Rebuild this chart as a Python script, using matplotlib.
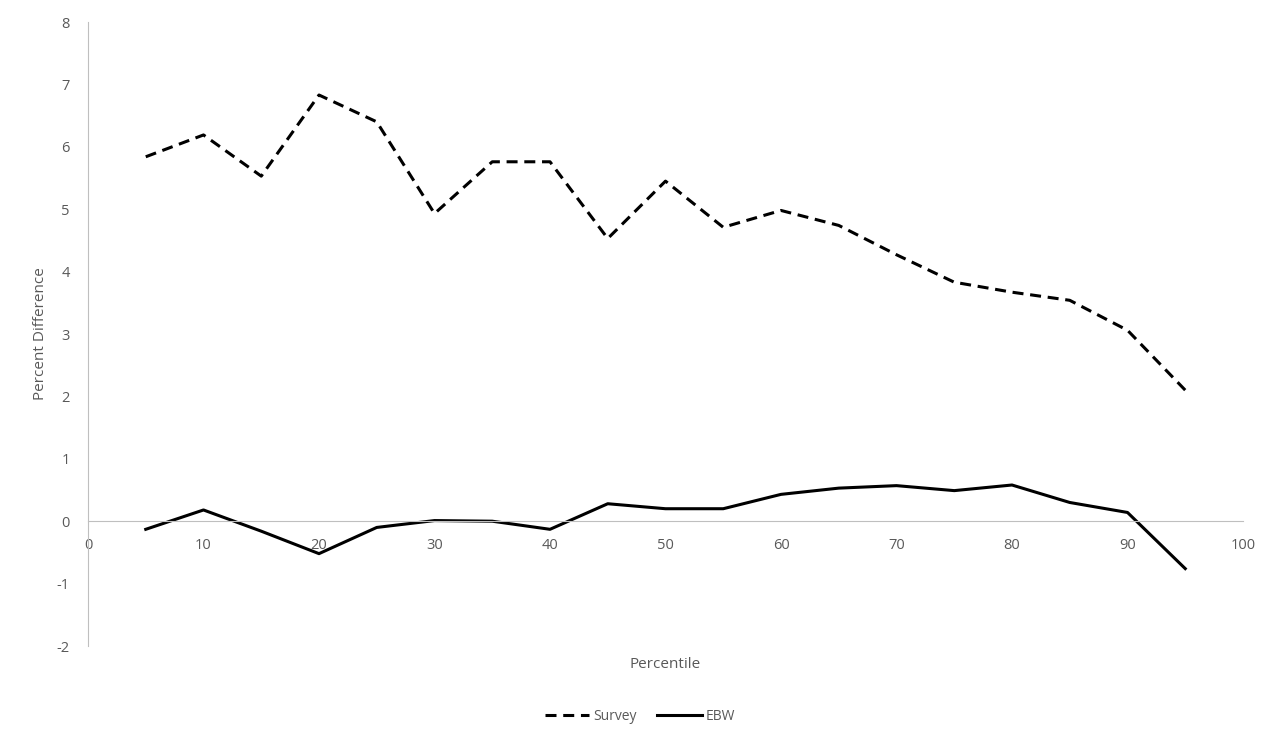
import matplotlib.pyplot as plt

percentile = [5, 10, 15, 20, 25, 30, 35, 40, 45, 50, 55, 60, 65, 70, 75, 80, 85, 90, 95]
survey = [5.84, 6.19, 5.53, 6.83, 6.40, 4.93, 5.76, 5.76, 4.53, 5.45, 4.71, 4.98, 4.74, 4.27, 3.83, 3.67, 3.54, 3.06, 2.10]
ebw = [-0.13, 0.18, -0.16, -0.52, -0.10, 0.01, 0.0, -0.13, 0.28, 0.20, 0.20, 0.43, 0.53, 0.57, 0.49, 0.58, 0.30, 0.14, -0.76]

plt.rcParams['font.family'] = ['Open Sans', 'DejaVu Sans']
plt.rcParams['axes.unicode_minus'] = False
grey = '#595959'

fig = plt.figure(figsize=(12.8, 7.46), dpi=100)
ax = fig.add_axes([88 / 1280, 1 - 646 / 746, 1155 / 1280, 624 / 746])

ax.plot(percentile, survey, color='black', lw=2.2, linestyle=(0, (3.6, 2.2)), label='Survey')
ax.plot(percentile, ebw, color='black', lw=2.2, label='EBW')

ax.set_xlim(0, 100)
ax.set_ylim(-2, 8)
ax.set_xticks(range(0, 101, 10))
ax.set_yticks(range(-2, 9))

ax.spines['top'].set_visible(False)
ax.spines['right'].set_visible(False)
ax.spines['bottom'].set_position(('data', 0))
ax.spines['bottom'].set_color('#bfbfbf')
ax.spines['left'].set_color('#bfbfbf')

ax.tick_params(axis='both', length=0, labelsize=10.5, labelcolor=grey)
ax.tick_params(axis='x', pad=12)
ax.tick_params(axis='y', pad=13)

ax.set_xlabel('Percentile', fontsize=11, color=grey)
ax.xaxis.set_label_coords(0.5, -0.018)
ax.set_ylabel('Percent Difference', fontsize=11, color=grey)
ax.yaxis.set_label_coords(-0.035, 0.5)

fig.legend(loc='center', bbox_to_anchor=(0.5, 1 - 716 / 746), ncol=2, frameon=False,
           fontsize=10, labelcolor=grey, handlelength=3.2, handletextpad=0.3, columnspacing=1.5)

fig.savefig('out.png', dpi=100)
